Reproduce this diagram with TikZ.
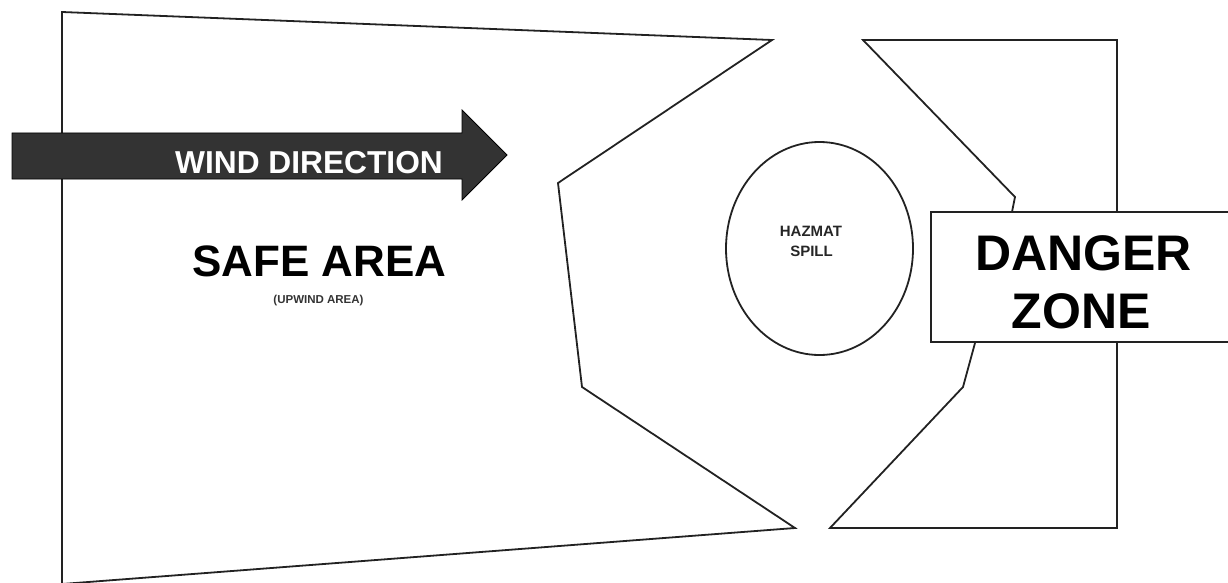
\documentclass[tikz,border=0pt]{standalone}
\usepackage{fontspec}
\setmainfont{Liberation Sans}
\usepackage{xcolor}
\usetikzlibrary{positioning}
\definecolor{arrowgray}{HTML}{333333}
\definecolor{edgegray}{HTML}{222222}

\begin{document}
\begin{tikzpicture}[x=1pt, y=-1pt, line join=miter]
  \tikzset{zone/.style={draw=edgegray, line width=1.8pt},
           lbl/.style={inner sep=0pt, anchor=base, font=\bfseries\fontsize{#1}{#1}\selectfont}}
  \useasboundingbox (0,0) rectangle (1228,583);

  % upwind side
  \draw[zone] (62,12) -- (772,40) -- (558,183) -- (582,387)
              -- (795,528) -- (62,584) -- cycle;
  % downwind side
  \draw[zone] (863,40) -- (1117,40) -- (1117,528) -- (830,528)
              -- (963,387) -- (975,343) -- (1012,212) -- (1015,197) -- cycle;

  \draw[zone] (819.5,248.5) ellipse [x radius=93.5, y radius=106.5];

  % wind arrow
  \draw[fill=arrowgray, draw=black, line width=0.8pt]
       (12,133) -- (462,133) -- (462,110) -- (507,155)
       -- (462,200) -- (462,179) -- (12,179) -- cycle;
  \node[lbl=31.7, text=white] (wind) at (309,173) {WIND DIRECTION};

  \node[lbl=44] (safe)   at (319.5,276.7) {SAFE AREA};
  \node[lbl=11.5, text=black!80] (upwind) at (318.5,303) {(UPWIND AREA)};

  \node[lbl=15, text=black!85] (hazmat) at (811,236.7) {HAZMAT};
  \node[lbl=15, text=black!85] (spill)  at (811.5,256.7) {SPILL};

  % danger sign
  \draw[fill=white, draw=edgegray, line width=2.2pt] (931,212) rectangle (1240,342);
  \node[lbl=50] (danger) at (1083.5,270) {DANGER};
  \node[lbl=50] (zone)   at (1081,328) {ZONE};
\end{tikzpicture}
\end{document}
